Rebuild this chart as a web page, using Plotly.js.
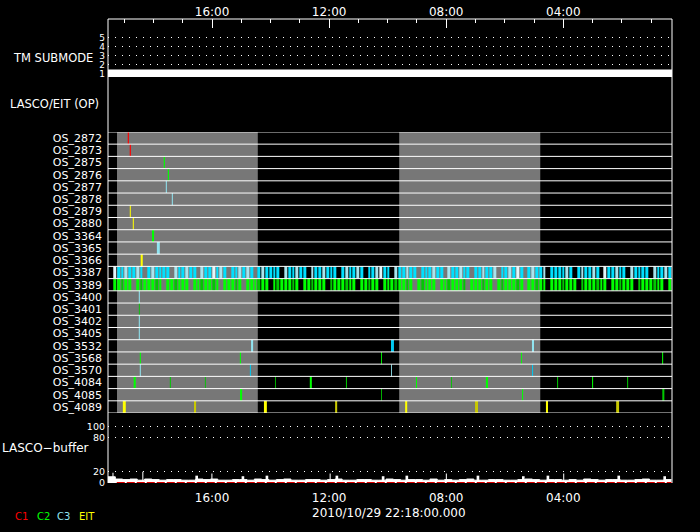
<!DOCTYPE html>
<html><head><meta charset="utf-8">
<script src="https://cdn.plot.ly/plotly-3.0.1.min.js"></script>
<style>html,body{margin:0;padding:0;background:#000;}#chart{width:700px;height:532px;}</style>
</head><body><div id="chart"></div>
<script>
// ---------- DATA ----------
const timeSpan = [0, 19.27];                       // hours across the plot
const hourTicks = [3.556, 7.556, 11.556, 15.556];
const hourLabels = ['16:00', '12:00', '08:00', '04:00'];
const minorHourTicks = [0.556,1.556,2.556,4.556,5.556,6.556,8.556,9.556,10.556,12.556,13.556,14.556,16.556,17.556,18.556];
const dateLabel = '2010/10/29 22:18:00.000';

const tmTimes = [0, 19.27];
const tmMode = [1, 1];
const tmTicks = [1, 2, 3, 4, 5];

const osRows = ['OS_2872','OS_2873','OS_2875','OS_2876','OS_2877','OS_2878','OS_2879','OS_2880',
  'OS_3364','OS_3365','OS_3366','OS_3387','OS_3389','OS_3400','OS_3401','OS_3402','OS_3405',
  'OS_3532','OS_3568','OS_3570','OS_4084','OS_4085','OS_4089'];

const grayStart = [0.308, 9.949];
const grayEnd   = [5.118, 14.769];

// events: row index, time (h), instrument kind, duration (h)
const evRow  = [0,1,2,3,4,5,6,7,8,9,10,13,14,15,16,
  17,17,17, 18,18,18,18,18, 19,19,19,19,
  20,20,20,20,20,20,20,20,20,20,20,20, 21,21,21,21,
  22,22,22,22,22,22,22,22];
const evTime = [0.694,0.762,1.925,2.062,1.993,2.198,0.762,0.865,1.538,1.720,1.152,1.070,1.070,1.070,1.070,
  4.923,9.720,14.520, 1.104,4.523,9.344,14.130,18.950, 1.104,4.865,9.686,14.506,
  0.913,2.130,3.326,5.720,6.930,8.147,10.540,11.737,12.947,15.361,16.557,17.754, 4.547,9.344,14.164,18.974,
  0.557,2.974,5.378,7.795,10.188,12.591,14.998,17.412];
const evKind = ['C1','C1','C2','C2','C3','C3','EIT','EIT','C2','C3','EIT','C3','C2d','C3','C3',
  'C3','C3b','C3', 'C2','C2','C2','C2','C2', 'C3','C3b','C3','C3b',
  'C2','C2d','C2d','C2d','C2','C2d','C2','C2d','C2','C2d','C2','C2d', 'C2','C2d','C2','C2d',
  'EIT','EITb','EIT','EITb','EIT','EITb','EIT','EITb'];
const evDur  = [0.04,0.04,0.04,0.04,0.035,0.035,0.035,0.035,0.07,0.1,0.07,0.035,0.03,0.035,0.035,
  0.07,0.1,0.07, 0.035,0.035,0.03,0.03,0.035, 0.035,0.035,0.03,0.035,
  0.07,0.035,0.03,0.03,0.07,0.035,0.035,0.03,0.07,0.035,0.035,0.035, 0.07,0.03,0.035,0.07,
  0.1,0.07,0.1,0.07,0.07,0.1,0.07,0.1];

// dense rows (OS_3387, OS_3389): one char per time bin, '-' = no image
const denseSpan = [0.18, 19.27];
const row3387 = "WCCLCCLC-CLCCCC-LCCLCC-LCCWCLC-CCLCLC-CLCCCC-LCCLCC-LCCLCCC-CLCCLC-CCLWCC-LCCLCC-CCCLCC-LCCLCC-CCLCCL-CCLCWC-CLCCL-CCCCLC-CLCCLC-WCCLCC-LCCCC-LCCLC";
const row3389 = "GGDGG-GDGGGDG-GGDGGG-GGDGGDG-GGGDG-GGGDGG-GDGGGDG-GGDGGG-DGGGDGG-GGDGG-GGGDGGDG-GDGGG-GGDGGGD-GGGDGG-GDGGGDG-GGDGG-GGGDGGG-DGGGDGG-GGDGGG-DGGGDGG-G";

// LASCO buffer fill (%) sampled every 0.25 h, plus peaks
const bufStep = 0.25;
const bufBase = [11,7,6,7,5,7,6,5,6,6,5,5,7,6,7,5,5,6,6,5,7,6,5,6,7,5,5,6,6,5,6,7,5,5,6,6,5,5,7,6,
  5,6,6,5,7,5,6,5,6,7,5,5,6,6,5,5,6,7,6,5,6,6,5,6,5,7,6,5,6,6,5,5,6,7,5,5,6,6];
const bufPeakT = [0.17,1.19,3.03,3.55,4.61,5.43,7.59,7.82,9.40,10.21,11.56,12.64,14.19,15.03,15.57,17.45,19.02];
const bufPeakV = [18,20,13,17,12,13,17,13,12,13,17,13,12,13,17,13,12];
const bufC1T = [0.3, 19.27];
const bufC1V = [0.6, 0.6];
const bufTicks = [0, 20, 80, 100];

const legendNames = ['C1', 'C2', 'C3', 'EIT'];

// ---------- STYLE ----------
const kindColor = {C1:'#ff0000', C2:'#00ff00', C2d:'#00c800', C3:'#90e4f0', C3b:'#00c8f0', EIT:'#ffff00', EITb:'#c8c800'};
const denseColor = {C:1, L:2, W:3, G:4, D:5};
const FONT = 'DejaVu Sans';

// geometry helpers (pixel -> paper)
const PL = 108, PR = 671.7, PT = 19, PB = 483.3;
const px = x => (x - PL) / (PR - PL);
const py = y => (PB - y) / (PB - PT);

const traces = [];

// TM submode bar
traces.push({x: tmTimes, y: tmMode, xaxis:'x', yaxis:'y', mode:'lines', type:'scatter',
  line:{color:'white', width:8}, hoverinfo:'skip'});

// dense rows as heatmaps
function denseTrace(str, rowIdx) {
  const n = str.length, bw = (denseSpan[1] - denseSpan[0]) / n;
  const z = [str.split('').map(c => c === '-' ? null : denseColor[c])];
  return {type:'heatmap', z: z, x0: denseSpan[0] + bw/2, dx: bw, y0: rowIdx + 0.5, dy: 1,
    xaxis:'x', yaxis:'y2', xgap: 1, zmin: 0.5, zmax: 5.5, showscale:false, hoverinfo:'skip',
    colorscale: [[0,'#00e0ff'],[0.2,'#00e0ff'],[0.2,'#a8e4ee'],[0.4,'#a8e4ee'],[0.4,'#e4f6fa'],[0.6,'#e4f6fa'],
      [0.6,'#00ff00'],[0.8,'#00ff00'],[0.8,'#00c800'],[1,'#00c800']]};
}
traces.push(denseTrace(row3387, osRows.indexOf('OS_3387')));
traces.push(denseTrace(row3389, osRows.indexOf('OS_3389')));

// events
traces.push({type:'bar', x: evTime, y: evRow.map(() => 1), base: evRow, width: evDur,
  xaxis:'x', yaxis:'y2', marker:{color: evKind.map(k => kindColor[k]), line:{width:0}}, hoverinfo:'skip'});

// buffer
traces.push({type:'scatter', x: bufBase.map((_, i) => i * bufStep), y: bufBase, xaxis:'x2', yaxis:'y3',
  mode:'lines', line:{shape:'hv', color:'white', width:1}, fill:'tozeroy', fillcolor:'white', hoverinfo:'skip'});
traces.push({type:'bar', x: bufPeakT, y: bufPeakV, width: bufPeakV.map(v => v >= 17 ? 0.035 : 0.09),
  xaxis:'x2', yaxis:'y3', marker:{color:'white', line:{width:0}}, hoverinfo:'skip'});
traces.push({type:'scatter', x: bufC1T, y: bufC1V, xaxis:'x2', yaxis:'y3', mode:'lines',
  line:{color:'#dd0000', width:1.5, dash:'8px,2px'}, hoverinfo:'skip'});

// shapes
const shapes = [];
grayStart.forEach((s, i) => shapes.push({type:'rect', xref:'x', yref:'y2', x0: s, x1: grayEnd[i], y0: 0, y1: osRows.length,
  fillcolor:'#777777', line:{width:0}, layer:'below'}));
for (let i = 0; i <= osRows.length; i++) {
  shapes.push({type:'line', xref:'paper', yref:'y2', x0:0, x1:1, y0:i, y1:i, line:{color:'white', width:1}, layer:'above'});
}
shapes.push({type:'line', xref:'paper', yref:'paper', x0:0, x1:0, y0:0, y1:1, line:{color:'white', width:1}});
shapes.push({type:'line', xref:'paper', yref:'paper', x0:1, x1:1, y0:0, y1:1, line:{color:'white', width:1}});
shapes.push({type:'line', xref:'paper', yref:'paper', x0:0, x1:1, y0:1, y1:1, line:{color:'white', width:1}});

const legendX = [13, 35, 55, 77];
const annotations = [
  {text:'TM SUBMODE', xref:'paper', yref:'paper', x: px(95), y: py(58), xanchor:'right', yanchor:'middle', showarrow:false, font:{size:11.5, color:'white', family:FONT}},
  {text:'LASCO/EIT (OP)', xref:'paper', yref:'paper', x: px(101), y: py(104), xanchor:'right', yanchor:'middle', showarrow:false, font:{size:11.5, color:'white', family:FONT}},
  {text:'LASCO\u2212buffer', xref:'paper', yref:'paper', x: px(91), y: py(448), xanchor:'right', yanchor:'middle', showarrow:false, font:{size:12, color:'white', family:FONT}},
  {text: dateLabel, xref:'paper', yref:'paper', x: px(389), y: py(513), xanchor:'center', yanchor:'middle', showarrow:false, font:{size:12, color:'white', family:FONT}}
];
legendNames.forEach((n, i) => annotations.push({text:n, xref:'paper', yref:'paper', x: px(legendX[i]), y: py(517),
  xanchor:'left', yanchor:'middle', showarrow:false, font:{size:10, color: kindColor[n], family:FONT}}));

const layout = {
  width:700, height:532, paper_bgcolor:'black', plot_bgcolor:'black', showlegend:false, barmode:'overlay',
  margin:{l:PL, r:700-PR, t:PT, b:532-PB, pad:0},
  font:{family:FONT, color:'white', size:12},
  xaxis:{range: timeSpan, anchor:'y', side:'top', tickmode:'array', tickvals: hourTicks, ticktext: hourLabels,
    ticks:'inside', ticklen:9, tickcolor:'white', tickwidth:1,
    minor:{tickmode:'array', tickvals: minorHourTicks, ticks:'inside', ticklen:4, tickcolor:'white', tickwidth:1},
    showgrid:false, zeroline:false, showline:false, tickfont:{size:12, color:'white'}},
  xaxis2:{matches:'x', anchor:'y3', side:'bottom', tickmode:'array', tickvals: hourTicks, ticktext: hourLabels,
    ticks:'', showgrid:false, zeroline:false, showline:false, ticklabelstandoff: 6, tickfont:{size:12, color:'white'}},
  yaxis:{domain:[py(77), 1], range:[0.611, 7.056], tickmode:'array', tickvals: tmTicks, ticks:'',
    showgrid:true, gridcolor:'white', gridwidth:1, griddash:'1px,6px', zeroline:false, showline:false,
    ticklabelshift: 3.5, ticklabelstandoff: 2, tickfont:{size:9, color:'white'}},
  yaxis2:{domain:[py(413.3), py(132)], range:[osRows.length, 0], tickmode:'array',
    tickvals: osRows.map((_, i) => i + 0.5), ticktext: osRows, ticks:'', showgrid:false, zeroline:false, showline:false,
    ticklabelstandoff: 5, tickfont:{size:11, color:'white'}},
  yaxis3:{domain:[0, py(413.3)], range:[0, 124], tickmode:'array', tickvals: bufTicks, ticks:'',
    showgrid:true, gridcolor:'white', gridwidth:1, griddash:'1px,6px', zeroline:false, showline:false,
    ticklabelstandoff: 2, tickfont:{size:9.5, color:'white'}},
  shapes: shapes, annotations: annotations
};

Plotly.newPlot('chart', traces, layout, {staticPlot:true, displayModeBar:false});
</script></body></html>
